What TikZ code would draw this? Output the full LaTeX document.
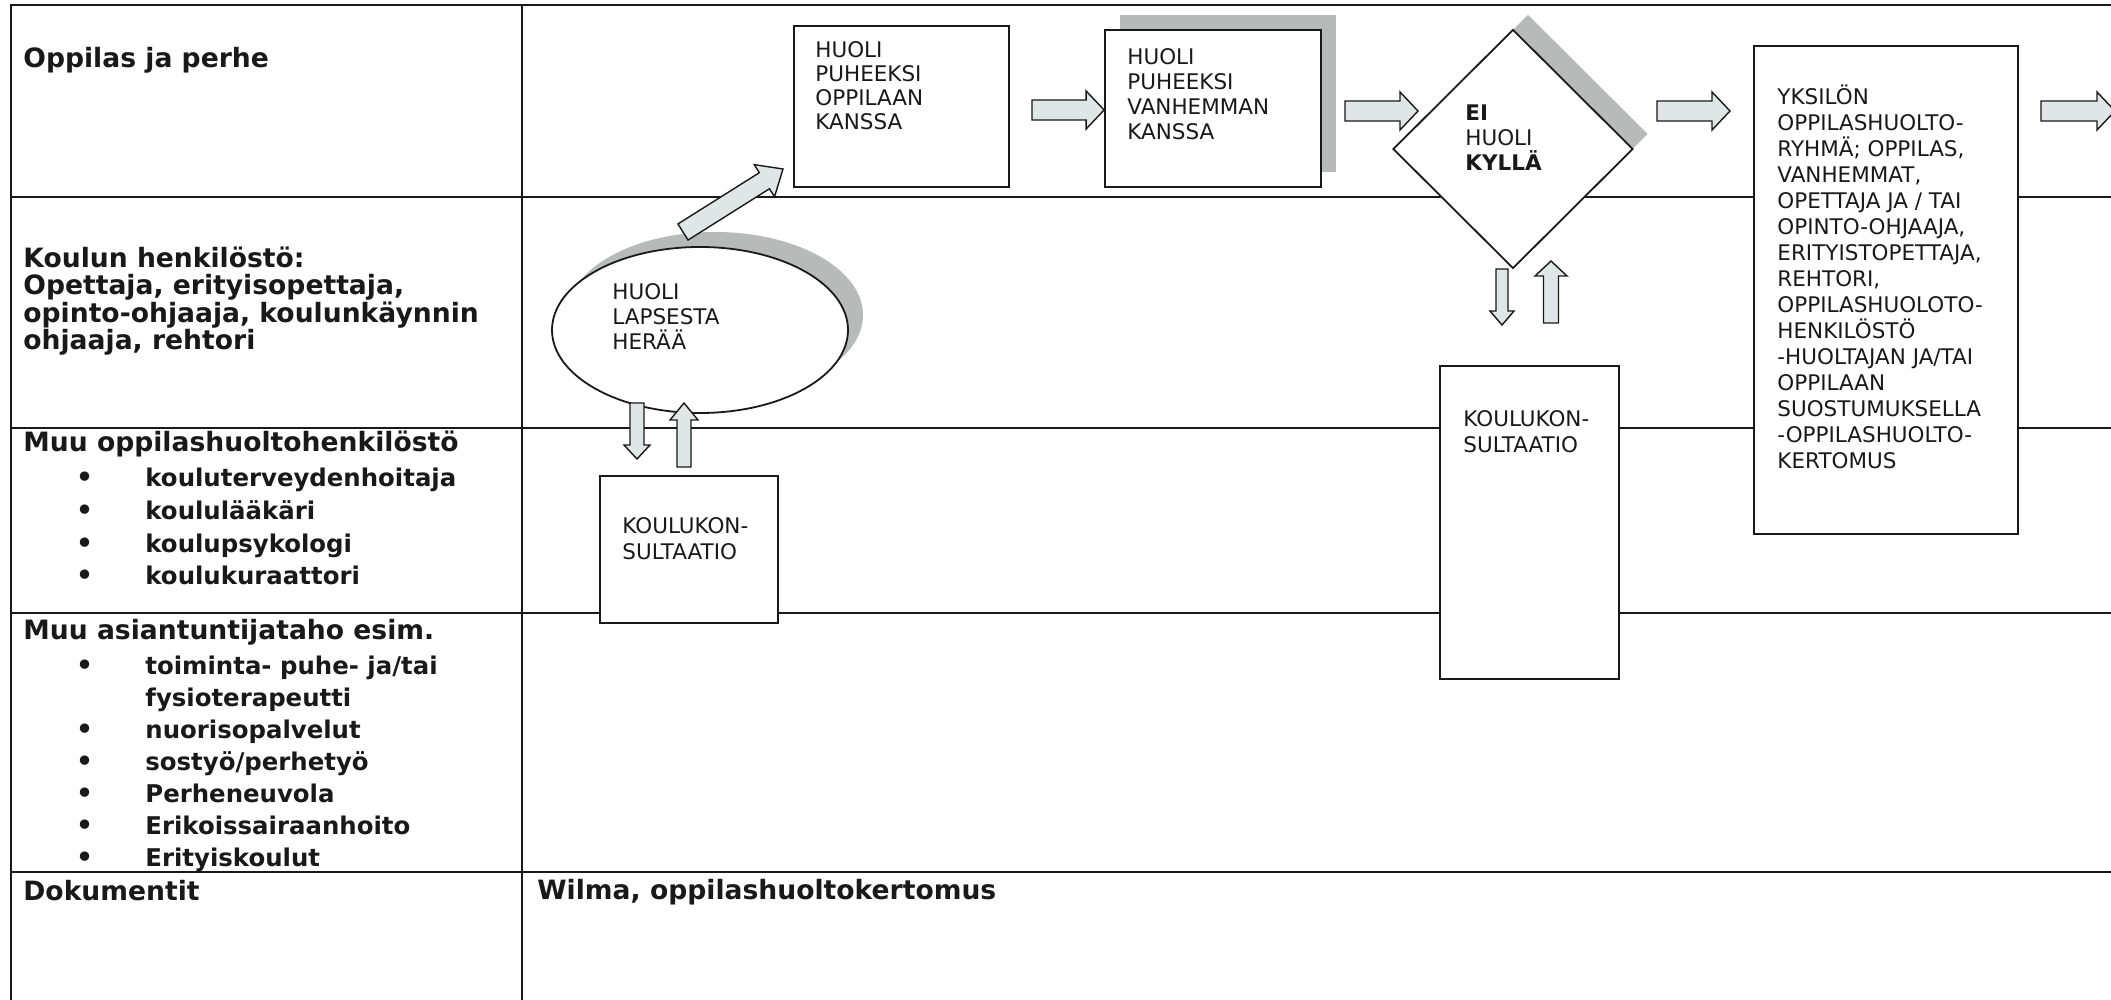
\documentclass[tikz,border=0pt]{standalone}
\usepackage{fontspec}
\setmainfont{DejaVu Sans}
\usetikzlibrary{shapes.geometric,calc,shadows}
\definecolor{arrowfill}{RGB}{222,230,231}
\definecolor{shadowgray}{RGB}{184,186,186}
\definecolor{ink}{RGB}{25,25,25}
% #1 name, #2 start, #3 end, #4 body half width, #5 head half width, #6 head length
\newcommand\blockarrow[6]{%
  \coordinate (#1-b) at ($(#3)!#6!(#2)$);
  \draw[barrow] ($(#2)!#4!90:(#3)$) -- ($(#1-b)!#4!90:(#3)$) -- ($(#1-b)!#5!90:(#3)$) -- (#3)
     -- ($(#1-b)!#5!-90:(#3)$) -- ($(#1-b)!#4!-90:(#3)$) -- ($(#2)!#4!-90:(#3)$) -- cycle;
}
\newcommand\bitem[1]{\makebox[61pt][l]{\hspace{26.4pt}\textbullet}{\fontsize{12.2}{16}\selectfont #1}}
\newcommand\citem[1]{\hspace*{61pt}{\fontsize{12.2}{16}\selectfont #1}}
\newcommand\fsth{\rule{0pt}{13pt}}
\newcommand\fstb{\rule{0pt}{11pt}}
\begin{document}
\begin{tikzpicture}[x=0.5pt,y=-0.5pt,
  tbl/.style={line width=0.8pt, draw=ink},
  box/.style={rectangle, draw=ink, line width=0.9pt, fill=white, inner sep=0pt},
  shd/.style={general shadow={fill=shadowgray, shadow xshift=7.5pt, shadow yshift=7.5pt}},
  hdr/.style={anchor=north west, inner sep=0pt, align=left, text=ink, font=\bfseries\fontsize{13.3}{16}\selectfont},
  btxt/.style={anchor=north west, inner sep=0pt, align=left, text=ink, font=\fontsize{10.75}{12.5}\selectfont},
  btxtw/.style={anchor=north west, inner sep=0pt, align=left, text=ink, font=\fontsize{10.75}{13}\selectfont},
  barrow/.style={draw=ink, line width=0.7pt, fill=arrowfill, line join=miter}]
\useasboundingbox (0,0) rectangle (2111,1000);
\clip (0,0) rectangle (2111,1000);
\fill[white] (0,0) rectangle (2111,1000);
% table
\draw[tbl] (11,1000) -- (11,5) -- (2111,5);
\draw[tbl] (522,5) -- (522,1000);
\foreach \yy in {197,428,613,872} \draw[tbl] (11,\yy) -- (2111,\yy);
% left column
\node[hdr] (l1) at (23,40.7) {\fsth Oppilas ja perhe};
\node[hdr, font=\bfseries\fontsize{13.3}{13.8}\selectfont] (l2) at (23,240.7) {\fsth Koulun henkilöstö:\\Opettaja, erityisopettaja,\\opinto-ohjaaja, koulunkäynnin\\ohjaaja, rehtori};
\node[hdr, font=\bfseries\fontsize{13.3}{16.4}\selectfont] (l3) at (23,425.3) {\fsth Muu oppilashuoltohenkilöstö\\[1pt]\bitem{kouluterveydenhoitaja}\\\bitem{koululääkäri}\\\bitem{koulupsykologi}\\\bitem{koulukuraattori}};
\node[hdr, font=\bfseries\fontsize{13.3}{16.05}\selectfont] (l4) at (23,612.7) {\fsth Muu asiantuntijataho esim.\\[1.5pt]\bitem{toiminta- puhe- ja/tai}\\\citem{fysioterapeutti}\\\bitem{nuorisopalvelut}\\\bitem{sostyö/perhetyö}\\\bitem{Perheneuvola}\\\bitem{Erikoissairaanhoito}\\\bitem{Erityiskoulut}};
\node[hdr] (l5) at (23,873.7) {\fsth Dokumentit};
\node[hdr] (wil) at (537,872.7) {\fsth Wilma, oppilashuoltokertomus};
% shapes
\node[ellipse, draw=ink, line width=0.9pt, fill=white, inner sep=0pt, minimum width=148pt, minimum height=83pt, shd] (eH) at (700,330) {};
\node[box, minimum width=107.5pt, minimum height=80.5pt] (bA) at (901.5,106.5) {};
\node[box, minimum width=108pt, minimum height=78.5pt, shd] (bB) at (1213,108.5) {};
\node[diamond, draw=ink, line width=0.9pt, fill=white, inner sep=0pt, minimum width=120pt, minimum height=119.5pt, shd] (dD) at (1513,149) {};
\node[box, minimum width=89pt, minimum height=73.5pt] (k1) at (689,549.5) {};
\node[box, minimum width=89.5pt, minimum height=156.5pt] (k2) at (1529.5,522.5) {};
\node[box, minimum width=132pt, minimum height=244pt] (bC) at (1886,290) {};
% texts
\node[btxt] (teH) at (612,276.8) {\fstb HUOLI\\LAPSESTA\\HERÄÄ};
\node[btxt, font=\fontsize{10.75}{12}\selectfont] (tA) at (815,34.8) {\fstb HUOLI\\PUHEEKSI\\OPPILAAN\\KANSSA};
\node[btxt] (tB) at (1127,41.8) {\fstb HUOLI\\PUHEEKSI\\VANHEMMAN\\KANSSA};
\node[btxt] (tD) at (1465,97.8) {\fstb\textbf{EI}\\HUOLI\\\textbf{KYLLÄ}};
\node[btxtw] (tk1) at (622,511.3) {\fstb KOULUKON-\\SULTAATIO};
\node[btxtw] (tk2) at (1463,404.3) {\fstb KOULUKON-\\SULTAATIO};
\node[btxtw] (tC) at (1777,81.8) {\fstb YKSILÖN\\OPPILASHUOLTO-\\RYHMÄ; OPPILAS,\\VANHEMMAT,\\OPETTAJA JA / TAI\\OPINTO-OHJAAJA,\\ERITYISTOPETTAJA,\\REHTORI,\\OPPILASHUOLOTO-\\HENKILÖSTÖ\\-HUOLTAJAN JA/TAI\\OPPILAAN\\SUOSTUMUKSELLA\\-OPPILASHUOLTO-\\KERTOMUS};
% block arrows
\coordinate (eA-s) at (683,232); \coordinate (eA-e) at (783,169);
\blockarrow{aeA}{eA-s}{eA-e}{4.75pt}{9.5pt}{11pt}
\coordinate (AB-s) at (1032,110); \coordinate (AB-e) at (bB.west |- 0,110);
\blockarrow{aAB}{AB-s}{AB-e}{5pt}{9.5pt}{9pt}
\coordinate (BD-s) at (1345,111); \coordinate (BD-e) at (1418,111);
\blockarrow{aBD}{BD-s}{BD-e}{5pt}{9.5pt}{9pt}
\coordinate (DC-s) at (1657,111); \coordinate (DC-e) at (1730,111);
\blockarrow{aDC}{DC-s}{DC-e}{5pt}{9.5pt}{9pt}
\coordinate (Co-s) at (2041,111); \coordinate (Co-e) at (2115,111);
\blockarrow{aCo}{Co-s}{Co-e}{5pt}{9.5pt}{9pt}
\coordinate (ek-s) at (637,403); \coordinate (ek-e) at (637,459);
\blockarrow{aek}{ek-s}{ek-e}{3.5pt}{6.5pt}{7pt}
\coordinate (ke-s) at (684,467); \coordinate (ke-e) at (684,403);
\blockarrow{ake}{ke-s}{ke-e}{3.5pt}{7pt}{8.5pt}
\coordinate (dk-s) at (1502,269); \coordinate (dk-e) at (1502,325);
\blockarrow{adk}{dk-s}{dk-e}{3pt}{6pt}{7pt}
\coordinate (kd-s) at (1551,323); \coordinate (kd-e) at (1551,261);
\blockarrow{akd}{kd-s}{kd-e}{3.75pt}{8pt}{7.5pt}
\end{tikzpicture}
\end{document}
